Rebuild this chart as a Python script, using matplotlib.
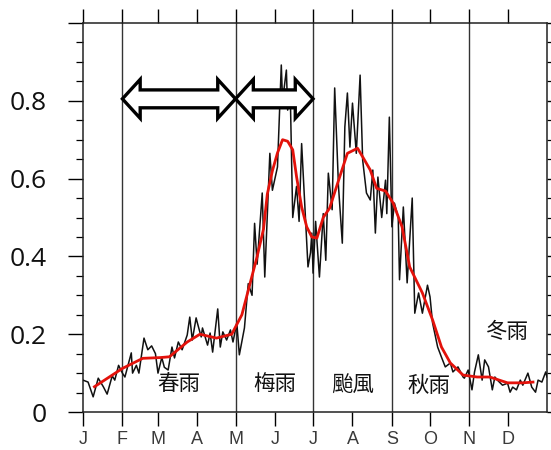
import matplotlib
matplotlib.use("Agg")
import matplotlib.pyplot as plt
from matplotlib.patches import Polygon
from matplotlib.ticker import MultipleLocator

# Daily rainfall index (day of year, value) - black trace
black_days = [0, 4, 8, 12, 16, 19, 23, 25, 28, 31, 33, 38, 39, 42, 44, 48, 51, 54, 57, 59,
              62, 64, 67, 70, 72, 75, 78, 82, 84, 86, 89, 90, 93, 94, 98, 100, 102, 106, 108,
              110, 113, 116, 118, 121, 123, 127, 130, 133, 135, 137, 141, 143, 147, 149, 153,
              156, 157, 160, 161, 163, 165, 168, 170, 172, 175, 177, 179, 180, 181, 183, 186,
              189, 191, 193, 196, 198, 201, 204, 206, 208, 210, 212, 215, 218, 220, 223, 226,
              228, 230, 232, 235, 238, 239, 241, 243, 245, 248, 249, 252, 255, 259, 261, 264,
              267, 271, 273, 275, 279, 282, 285, 289, 291, 295, 299, 300, 303, 306, 308, 311,
              314, 316, 319, 322, 324, 326, 330, 334, 336, 338, 341, 344, 346, 350, 353, 356,
              358, 361, 364, 365]
black_vals = [0.082, 0.077, 0.039, 0.087, 0.065, 0.046, 0.093, 0.082, 0.120, 0.100, 0.090,
              0.152, 0.100, 0.120, 0.100, 0.190, 0.160, 0.170, 0.150, 0.100, 0.140, 0.115,
              0.108, 0.167, 0.139, 0.180, 0.160, 0.198, 0.244, 0.185, 0.242, 0.229, 0.193,
              0.216, 0.172, 0.203, 0.154, 0.265, 0.167, 0.206, 0.185, 0.211, 0.180, 0.229,
              0.147, 0.216, 0.330, 0.300, 0.485, 0.380, 0.563, 0.347, 0.665, 0.570, 0.630,
              0.892, 0.800, 0.879, 0.776, 0.828, 0.500, 0.580, 0.490, 0.690, 0.500, 0.373,
              0.410, 0.460, 0.357, 0.490, 0.347, 0.510, 0.390, 0.614, 0.520, 0.833, 0.580,
              0.434, 0.733, 0.820, 0.681, 0.794, 0.665, 0.866, 0.648, 0.563, 0.545, 0.622,
              0.460, 0.604, 0.500, 0.596, 0.510, 0.758, 0.476, 0.537, 0.500, 0.340, 0.527,
              0.332, 0.550, 0.254, 0.306, 0.254, 0.326, 0.296, 0.229, 0.167, 0.141, 0.116,
              0.126, 0.103, 0.116, 0.090, 0.087, 0.108, 0.057, 0.103, 0.147, 0.082, 0.134,
              0.116, 0.057, 0.090, 0.082, 0.069, 0.074, 0.051, 0.064, 0.057, 0.082, 0.069,
              0.100, 0.064, 0.051, 0.082, 0.077, 0.103, 0.090]

# Smoothed climatology - red curve
red_days = [9, 31, 47, 61, 68, 82, 92, 105, 117, 125, 129, 133, 137, 142, 145, 149, 153, 157,
            161, 165, 168, 172, 176, 180, 184, 189, 194, 202, 208, 216, 220, 226, 231, 238,
            244, 251, 257, 267, 275, 282, 289, 299, 310, 320, 334, 346, 354]
red_vals = [0.065, 0.112, 0.138, 0.140, 0.142, 0.180, 0.200, 0.190, 0.200, 0.250, 0.300,
            0.350, 0.400, 0.470, 0.560, 0.620, 0.666, 0.700, 0.696, 0.674, 0.605, 0.527,
            0.476, 0.450, 0.447, 0.500, 0.524, 0.605, 0.665, 0.678, 0.656, 0.622, 0.575,
            0.568, 0.537, 0.476, 0.373, 0.306, 0.237, 0.167, 0.126, 0.095, 0.090, 0.090,
            0.075, 0.075, 0.077]

month_starts = [0, 31, 59, 90, 120, 151, 181, 212, 243, 273, 304, 334]
month_labels = ["J", "F", "M", "A", "M", "J", "J", "A", "S", "O", "N", "D"]
season_bounds = [31, 120, 181, 243, 304]
season_names = ["春雨", "梅雨", "颱風", "秋雨", "冬雨"]
season_text_pos = [(75, 0.072), (151, 0.072), (212, 0.068), (272, 0.068), (333, 0.205)]
arrow_spans = [(31, 120), (120, 181)]
arrow_level = 0.805

fig = plt.figure(figsize=(5.51, 4.50), dpi=100)
ax = fig.add_axes([0.1506, 0.0844, 0.8421, 0.8645])

for xb in season_bounds:
    ax.axvline(xb, color="#333333", lw=1.0, zorder=1)

ax.plot(black_days, black_vals, color="#111111", lw=1.1, zorder=3)
ax.plot(red_days, red_vals, color="#e3120b", lw=2.0, zorder=4, solid_joinstyle="round")

# hollow double-headed arrows
shaft_h = 0.023
head_h = 0.05
head_len = 14
for x0, x1 in arrow_spans:
    yc = arrow_level
    pts = [(x0, yc),
           (x0 + head_len, yc + head_h), (x0 + head_len, yc + shaft_h),
           (x1 - head_len, yc + shaft_h), (x1 - head_len, yc + head_h),
           (x1, yc),
           (x1 - head_len, yc - head_h), (x1 - head_len, yc - shaft_h),
           (x0 + head_len, yc - shaft_h), (x0 + head_len, yc - head_h)]
    ax.add_patch(Polygon(pts, closed=True, facecolor="white", edgecolor="black",
                         lw=2.4, joinstyle="miter", zorder=5))

for name, (tx, ty) in zip(season_names, season_text_pos):
    ax.text(tx, ty, name, ha="center", va="center", fontsize=15.5, weight="medium",
            family=["Noto Sans CJK TC", "DejaVu Sans"], color="#111111", zorder=6)

ax.set_xlim(0, 365)
ax.set_ylim(0, 1.0)

ax.set_xticks(month_starts)
ax.set_xticklabels(month_labels, family="Liberation Sans", fontsize=13, color="#3a3a3a")
ax.tick_params(axis="x", which="major", direction="out", length=10, width=1.0,
               top=True, bottom=True, labeltop=False, pad=4)

ax.set_yticks([0, 0.2, 0.4, 0.6, 0.8, 1.0])
ax.set_yticklabels(["0", "0.2", "0.4", "0.6", "0.8", ""], family="Open Sans",
                   fontsize=19, color="#111111")
ax.yaxis.set_minor_locator(MultipleLocator(0.05))
ax.tick_params(axis="y", which="major", direction="out", length=11, width=1.0,
               left=True, right=True, labelright=False, pad=15)
ax.tick_params(axis="y", which="minor", direction="out", length=5, width=0.9,
               left=True, right=True)

for sp in ax.spines.values():
    sp.set_linewidth(1.1)
    sp.set_color("#222222")

fig.savefig("out.png", dpi=100)
